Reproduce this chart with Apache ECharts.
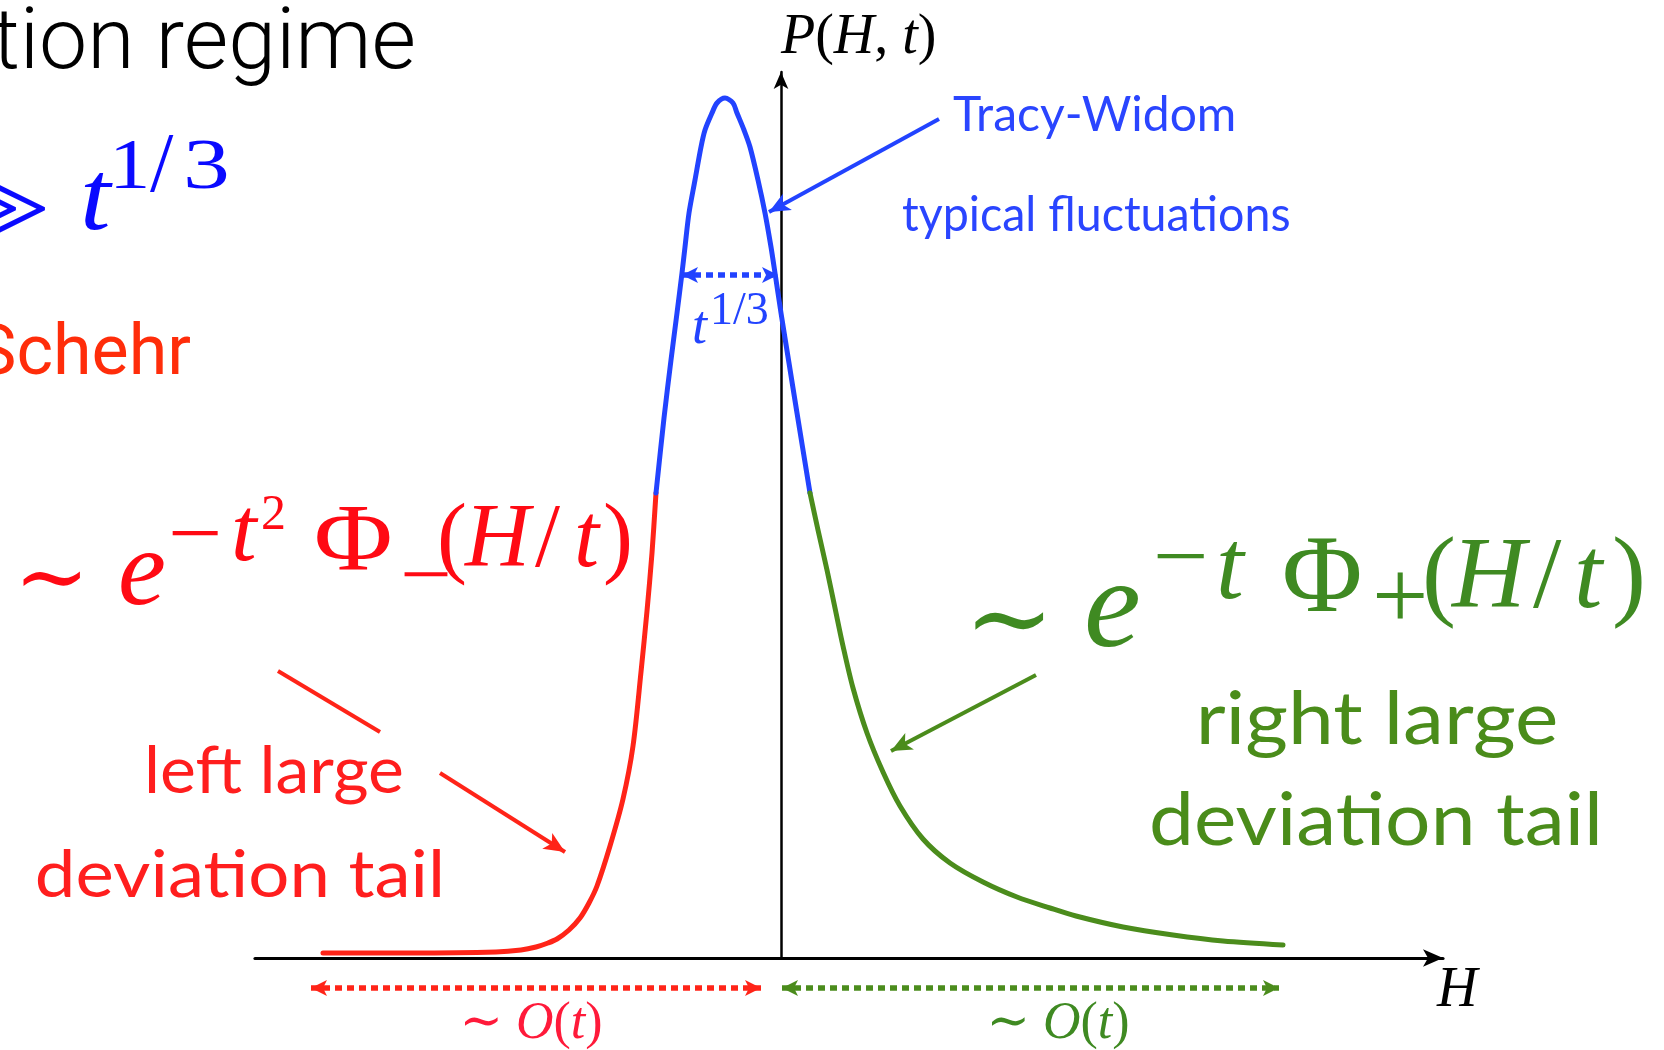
<!DOCTYPE html>
<html>
<head>
<meta charset="utf-8">
<script src="https://cdn.jsdelivr.net/npm/echarts@6/dist/echarts.min.js"></script>
<style>
  html, body { margin: 0; padding: 0; background: #fff; }
  #chart { width: 1664px; height: 1050px; }
</style>
</head>
<body>
<div id="chart"></div>
<script>
// Height distribution P(H,t): the left large-deviation tail, the Tracy-Widom core
// and the right large-deviation tail, as [H, P] pairs.
const leftTail = [
  [-4.58, 0.05], [-3.70, 0.05], [-2.85, 0.06], [-2.60, 0.08], [-2.45, 0.11],
  [-2.33, 0.15], [-2.24, 0.19], [-2.12, 0.28], [-2.01, 0.40], [-1.92, 0.55],
  [-1.84, 0.72], [-1.71, 1.12], [-1.58, 1.59], [-1.48, 2.12], [-1.40, 2.86],
  [-1.34, 3.47], [-1.29, 4.05], [-1.25, 4.65]
];
const typicalPeak = [
  [-1.25, 4.65], [-1.17, 5.40], [-1.10, 5.98], [-1.04, 6.45], [-0.99, 6.85],
  [-0.96, 7.11], [-0.92, 7.45], [-0.86, 7.78], [-0.80, 8.11], [-0.76, 8.28],
  [-0.69, 8.45], [-0.64, 8.55], [-0.56, 8.60], [-0.48, 8.55], [-0.44, 8.45],
  [-0.37, 8.28], [-0.31, 8.11], [-0.23, 7.78], [-0.16, 7.45], [-0.10, 7.11],
  [-0.06, 6.85], [0.00, 6.45], [0.08, 5.95], [0.16, 5.45], [0.29, 4.65]
];
const rightTail = [
  [0.29, 4.65], [0.37, 4.28], [0.46, 3.88], [0.54, 3.50], [0.62, 3.12],
  [0.72, 2.70], [0.86, 2.25], [1.02, 1.86], [1.19, 1.52], [1.42, 1.19],
  [1.69, 0.95], [2.02, 0.76], [2.36, 0.61], [2.69, 0.50], [2.95, 0.42],
  [3.42, 0.31], [3.92, 0.23], [4.42, 0.17], [5.02, 0.13]
];

// Annotation arrows (segments end at the arrow tip), in [H, P] units
const leftPointer  = [[[-5.03, 2.87], [-4.01, 2.26]], [[-3.41, 1.85], [-2.16, 1.06]]];
const rightPointer = [[[2.55, 2.83], [1.10, 2.07]]];
const peakPointer  = [[[1.58, 8.39], [-0.12, 7.46]]];
const widthSpan = [[-0.99, 6.83], [-0.03, 6.83]];
// spans drawn under the H axis, in the strip below the plot
const leftSpan  = [[-4.70, -0.30], [-0.20, -0.30]];
const rightSpan = [[0.01, -0.30], [4.98, -0.30]];

const RED = '#ff2418', BLUE = '#2243ff', GREEN = '#4b8c1c';
const RED_TXT = '#ff1e1e', GREEN_TXT = '#4a8c1a', BLUE_TXT = '#2a45ff';
const PURE_BLUE = '#0a0aff', FORM_RED = '#ff0a14', FORM_GREEN = '#3f8a22';

const FAM = {
  serif: '"Liberation Serif", "Times New Roman", serif',
  sym: '"DejaVu Serif", "DejaVu Sans", serif',
  gill: 'Lato, "Open Sans", sans-serif',
  helv: 'Roboto, "Liberation Sans", sans-serif'
};
// distance of the canvas "middle" baseline above the alphabetic one (em units)
const MID = { serif: 0.3375, sym: 0.346, gill: 0.387, helv: 0.342 };

function label(x, base, text, size, fam, fill, o = {}) {
  const style = {
    text, fill,
    align: o.align || 'left',
    verticalAlign: 'middle',
    font: (o.italic ? 'italic ' : '') + (o.weight || 400) + ' ' + size + 'px ' + FAM[fam]
  };
  if (o.rich) style.rich = o.rich;
  return { type: 'text', x, y: base - MID[fam] * size, scaleX: o.sx || 1,
           silent: true, z: 10, style };
}
// symbol placed by its visual centre line
function sym(x, centre, text, size, fill, o = {}) {
  return label(x, centre + MID.sym * size, text, size, 'sym', fill, o);
}
function richSerif(size, fill) {
  return {
    i: { fontStyle: 'italic', fontSize: size, fontFamily: FAM.serif, fill },
    r: { fontStyle: 'normal', fontSize: size, fontFamily: FAM.serif, fill },
    s: { fontStyle: 'normal', fontSize: size, fontFamily: FAM.sym, fill }
  };
}

const texts = [
  label(416, 76, 'tion regime', 86, 'helv', '#000', { align: 'right', weight: 300 }),
  // >> t^{1/3}
  label(-46, 258, '>', 120, 'serif', PURE_BLUE),
  label(-17, 258, '>', 120, 'serif', PURE_BLUE),
  label(80, 236, 't', 100, 'serif', PURE_BLUE, { italic: true, sx: 1.1 }),
  label(109, 193, '1', 72, 'serif', PURE_BLUE, { sx: 1.15 }),
  label(150, 197, '/', 84, 'serif', PURE_BLUE),
  label(183, 193, '3', 72, 'serif', PURE_BLUE, { sx: 1.3 }),
  label(191, 380, 'Schehr', 70, 'helv', '#ff2d0a', { align: 'right' }),

  // ~ e^{-t^2 Phi_-(H/t)}
  sym(14, 584, '∼', 90, FORM_RED),
  label(118, 612, 'e', 108, 'serif', FORM_RED, { italic: true }),
  label(168, 567, '−', 84, 'serif', FORM_RED, { sx: 1.15 }),
  label(231, 567, 't', 92, 'serif', FORM_RED, { italic: true }),
  label(261, 533, '2', 50, 'serif', FORM_RED),
  label(314, 577, 'Φ', 96, 'serif', FORM_RED, { sx: 1.12 }),
  label(400, 607, '−', 80, 'serif', FORM_RED, { sx: 1.15 }),
  label(437, 573, '(', 90, 'serif', FORM_RED),
  label(465, 573, 'H', 90, 'serif', FORM_RED, { italic: true }),
  label(535, 573, '/', 90, 'serif', FORM_RED),
  label(574, 573, 't', 90, 'serif', FORM_RED, { italic: true }),
  label(603, 573, ')', 90, 'serif', FORM_RED),

  // ~ e^{-t Phi_+(H/t)}
  sym(964, 627, '∼', 108, FORM_GREEN),
  label(1084, 656, 'e', 128, 'serif', FORM_GREEN, { italic: true }),
  label(1153, 593, '−', 90, 'serif', FORM_GREEN, { sx: 1.1 }),
  label(1216, 605, 't', 100, 'serif', FORM_GREEN, { italic: true }),
  label(1282, 619, 'Φ', 110, 'serif', FORM_GREEN),
  label(1372, 636, '+', 100, 'serif', FORM_GREEN),
  label(1422, 615, '(', 102, 'serif', FORM_GREEN),
  label(1452, 615, 'H', 102, 'serif', FORM_GREEN, { italic: true }),
  label(1533, 615, '/', 102, 'serif', FORM_GREEN),
  label(1574, 615, 't', 102, 'serif', FORM_GREEN, { italic: true }),
  label(1612, 615, ')', 102, 'serif', FORM_GREEN),

  label(274, 797, 'left large', 66, 'gill', RED_TXT, { align: 'center', sx: 1.03 }),
  label(240, 901, 'devia\u200Ction tail', 66, 'gill', RED_TXT, { align: 'center', sx: 1.10 }),
  label(1377, 749, 'right large', 74, 'gill', GREEN_TXT, { align: 'center', sx: 1.11 }),
  label(1376, 850, 'devia\u200Ction tail', 74, 'gill', GREEN_TXT, { align: 'center', sx: 1.085 }),
  label(953, 134, 'Tracy-Widom', 48, 'gill', BLUE_TXT),
  label(902, 234, 'typical fluctuations', 48, 'gill', BLUE_TXT, { sx: 0.97 }),

  label(781, 57, '{i|P}{r|(}{i|H}{r|, }{i|t}{r|)}', 56, 'serif', '#000', { rich: richSerif(56, '#000') }),
  label(1437, 1010, 'H', 56, 'serif', '#000', { italic: true }),
  label(692, 347, 't', 54, 'serif', BLUE, { italic: true }),
  label(710, 327, '1/3', 46, 'serif', BLUE),
  label(531, 1042, '{s|∼} {i|O}{r|(}{i|t}{r|)}', 52, 'serif', '#ff1a3a',
        { align: 'center', rich: richSerif(52, '#ff1a3a') }),
  label(1058, 1042, '{s|∼} {i|O}{r|(}{i|t}{r|)}', 52, 'serif', FORM_GREEN,
        { align: 'center', rich: richSerif(52, FORM_GREEN) })
];

function curve(name, data, color) {
  return {
    name, type: 'line', data, smooth: 0.3,
    showSymbol: false, symbol: 'none', z: 3,
    lineStyle: { color, width: 5, cap: 'round', join: 'round' }
  };
}
function pointers(name, segs, color) {
  const ls = { color, width: 4, type: 'solid' };
  return {
    name, type: 'line', data: [], clip: false, z: 4,
    markLine: {
      silent: true, animation: false, label: { show: false },
      symbolSize: [14, 21],
      lineStyle: ls,
      data: segs.map((s, i) => [
        { coord: s[0], symbol: 'none', lineStyle: ls },
        { coord: s[1], symbol: i === segs.length - 1 ? 'arrow' : 'none', lineStyle: ls }
      ])
    }
  };
}
function span(name, ends, color, axisIndex) {
  const ls = { color, width: 5.5, type: [7, 5] };
  return {
    name, type: 'line', data: [], clip: false, z: 4,
    xAxisIndex: axisIndex, yAxisIndex: axisIndex,
    markLine: {
      silent: true, animation: false, label: { show: false },
      symbolSize: [12, 16],
      lineStyle: ls,
      data: [[{ coord: ends[0], symbol: 'arrow', lineStyle: ls },
              { coord: ends[1], symbol: 'arrow', lineStyle: ls }]]
    }
  };
}

const hidden = { show: false };
const chart = echarts.init(document.getElementById('chart'), null, { renderer: 'canvas' });
chart.setOption({
  animation: false,
  backgroundColor: '#fff',
  grid: [
    { left: 255, right: 221, top: 72, bottom: 92 },
    { left: 255, right: 221, top: 958, height: 92 }
  ],
  xAxis: [
    {
      type: 'value', min: -5.26, max: 6.62,
      axisLine: { show: true, onZero: true, symbol: ['none', 'arrow'], symbolSize: [13, 20],
                  lineStyle: { color: '#000', width: 3.2 } },
      axisTick: hidden, axisLabel: hidden, splitLine: hidden
    },
    { type: 'value', gridIndex: 1, min: -5.26, max: 6.62, show: false }
  ],
  yAxis: [
    {
      type: 'value', min: 0, max: 8.86,
      axisLine: { show: true, onZero: true, symbol: ['none', 'arrow'], symbolSize: [11, 17],
                  lineStyle: { color: '#000', width: 2.5 } },
      axisTick: hidden, axisLabel: hidden, splitLine: hidden
    },
    { type: 'value', gridIndex: 1, min: -0.92, max: 0, show: false }
  ],
  series: [
    curve('left tail', leftTail, RED),
    curve('Tracy-Widom', typicalPeak, BLUE),
    curve('right tail', rightTail, GREEN),
    pointers('left pointer', leftPointer, RED),
    pointers('right pointer', rightPointer, GREEN),
    pointers('peak pointer', peakPointer, BLUE),
    span('width span', widthSpan, BLUE, 0),
    span('left span', leftSpan, RED, 1),
    span('right span', rightSpan, GREEN, 1)
  ],
  graphic: { elements: texts }
});
</script>
</body>
</html>
